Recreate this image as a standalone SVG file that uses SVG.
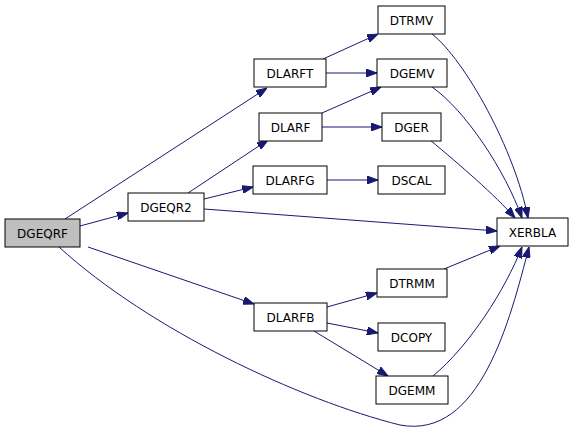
<svg xmlns="http://www.w3.org/2000/svg" width="576" height="433" viewBox="0 0 576 433">
<defs>
<style>
.n rect{fill:#fff;stroke:#000;stroke-width:1}
.n text{font-family:"DejaVu Sans","Liberation Sans",sans-serif;font-size:12px;text-anchor:middle;fill:#000}
#edges path{fill:none;stroke:#191970;stroke-width:1;marker-end:url(#ah)}
</style>
<marker id="ah" markerUnits="userSpaceOnUse" markerWidth="11" markerHeight="8" refX="11" refY="4" orient="auto"><path d="M0,0 L11,4 L0,8 z" fill="#191970" stroke="#191970" stroke-width="1"/></marker>
</defs>
<rect width="576" height="433" fill="#fff"/>
<g id="edges">
<path d="M80,226 L128,213"/>
<path d="M65,219 L267,88"/>
<path d="M88,247 L254,304"/>
<path d="M59,247 C150,330 300,400 400,425 C480,440 510,320 529,247"/>
<path d="M188,193 L268,140"/>
<path d="M204,199 L253,187"/>
<path d="M204,209 L497,231"/>
<path d="M323,59 L378,34"/>
<path d="M326,73 L377,73"/>
<path d="M322,113 L381,87"/>
<path d="M322,127 L382,127"/>
<path d="M327,180 L378,180"/>
<path d="M432,34 C465,60 515,150 528,218"/>
<path d="M432,87 C465,110 505,170 522,218"/>
<path d="M430,140 C460,165 495,195 515,218"/>
<path d="M444,269 L500,246"/>
<path d="M433,376 C470,345 505,290 522,247"/>
<path d="M327,307 L377,293"/>
<path d="M327,323 L378,333"/>
<path d="M314,331 L388,376"/>
</g>
<g id="DGEQRF" class="n"><rect x="5" y="219" width="75" height="28" style="fill:#bfbfbf"/><text x="42.5" y="237.5">DGEQRF</text></g>
<g id="DGEQR2" class="n"><rect x="128" y="193" width="76" height="28"/><text x="166" y="211.5">DGEQR2</text></g>
<g id="DLARFT" class="n"><rect x="254" y="59" width="72" height="28"/><text x="290" y="77.5">DLARFT</text></g>
<g id="DLARF" class="n"><rect x="259" y="113" width="63" height="28"/><text x="290.5" y="131.5">DLARF</text></g>
<g id="DLARFG" class="n"><rect x="253" y="166" width="74" height="28"/><text x="290" y="184.5">DLARFG</text></g>
<g id="DLARFB" class="n"><rect x="254" y="303" width="73" height="28"/><text x="290.5" y="321.5">DLARFB</text></g>
<g id="DTRMV" class="n"><rect x="378" y="6" width="67" height="28"/><text x="411.5" y="24.5">DTRMV</text></g>
<g id="DGEMV" class="n"><rect x="377" y="59" width="70" height="28"/><text x="412" y="77.5">DGEMV</text></g>
<g id="DGER" class="n"><rect x="382" y="113" width="59" height="28"/><text x="411.5" y="131.5">DGER</text></g>
<g id="DSCAL" class="n"><rect x="378" y="166" width="67" height="28"/><text x="411.5" y="184.5">DSCAL</text></g>
<g id="DTRMM" class="n"><rect x="377" y="269" width="70" height="28"/><text x="412" y="287.5">DTRMM</text></g>
<g id="DCOPY" class="n"><rect x="378" y="323" width="67" height="28"/><text x="411.5" y="341.5">DCOPY</text></g>
<g id="DGEMM" class="n"><rect x="376" y="376" width="72" height="28"/><text x="412" y="394.5">DGEMM</text></g>
<g id="XERBLA" class="n"><rect x="497" y="218" width="71" height="28"/><text x="532.5" y="236.5">XERBLA</text></g>
</svg>
